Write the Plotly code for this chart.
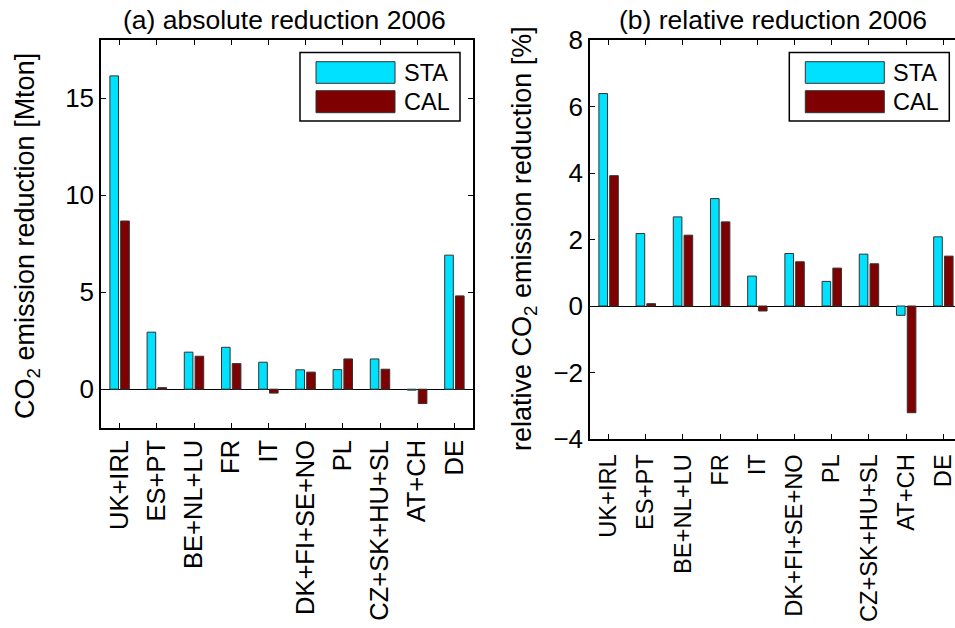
import plotly.graph_objects as go

categories = ["UK+IRL", "ES+PT", "BE+NL+LU", "FR", "IT", "DK+FI+SE+NO", "PL",
              "CZ+SK+HU+SL", "AT+CH", "DE"]
abs_sta = [16.15, 2.94, 1.91, 2.16, 1.39, 1.00, 1.01, 1.56, -0.05, 6.91]
abs_cal = [8.67, 0.08, 1.70, 1.32, -0.20, 0.88, 1.56, 1.03, -0.74, 4.81]
rel_sta = [6.39, 2.18, 2.68, 3.23, 0.90, 1.58, 0.74, 1.56, -0.28, 2.08]
rel_cal = [3.92, 0.07, 2.13, 2.53, -0.15, 1.33, 1.14, 1.27, -3.21, 1.50]
series_names = ["STA", "CAL"]
abs_yticks = [0, 5, 10, 15]
rel_yticks = [-4, -2, 0, 2, 4, 6, 8]

W, H = 955, 628
C_STA = "#00E0FF"
C_CAL = "#7F0000"
FONT = "Liberation Sans, Arial, sans-serif"
FS = 26
FS_LEG = 23.5
FS_YT = 27

def px(x):
    return x / W

def py(y):
    return 1 - y / H

fig = go.Figure()
for vals, col, name in [(abs_sta, C_STA, series_names[0]), (abs_cal, C_CAL, series_names[1])]:
    fig.add_trace(go.Bar(x=categories, y=vals, marker=dict(color=col, line=dict(color="#333333", width=1)),
                         name=name, xaxis="x", yaxis="y", showlegend=False))
for vals, col, name in [(rel_sta, C_STA, series_names[0]), (rel_cal, C_CAL, series_names[1])]:
    fig.add_trace(go.Bar(x=categories, y=vals, marker=dict(color=col, line=dict(color="#333333", width=1)),
                         name=name, xaxis="x2", yaxis="y2", showlegend=False))

axis_common = dict(showline=True, linecolor="black", linewidth=1.5, ticks="inside", ticklen=5,
                   tickcolor="black", showgrid=False, automargin=False)

def tf(size):
    return dict(family=FONT, size=size, color="black")

fig.update_layout(
    width=W, height=H, margin=dict(l=0, r=0, t=0, b=0, autoexpand=False),
    paper_bgcolor="white", plot_bgcolor="white",
    barmode="group", bargap=0.42, bargroupgap=0.2,
    font=dict(family=FONT, size=FS, color="black"),
    xaxis=dict(domain=[px(101), px(473)], anchor="y", range=[-0.5, 9.5], tickangle=-90,
               mirror="ticks", tickfont=tf(25.5), **axis_common),
    yaxis=dict(domain=[py(428), py(40)], anchor="x", range=[-2, 18], tickvals=abs_yticks,
               mirror="ticks", zeroline=True, zerolinecolor="black", zerolinewidth=1,
               tickfont=tf(FS), **axis_common),
    xaxis2=dict(domain=[px(590), 1.0], anchor="y2", range=[-0.5, 9.5 - 7 / 37.4], tickangle=-90,
                mirror="ticks", tickfont=tf(23.7), ticklabelstandoff=4, **axis_common),
    yaxis2=dict(domain=[py(439), py(40)], anchor="x2", range=[-4, 8], tickvals=rel_yticks,
                zeroline=True, zerolinecolor="black", zerolinewidth=1, tickfont=tf(FS), **axis_common),
)

ann = []
ann.append(dict(text="(a) absolute reduction 2006", x=px(284), y=py(20), xanchor="center", yanchor="middle",
                xref="paper", yref="paper", showarrow=False, font=dict(size=26.5)))
ann.append(dict(text="(b) relative reduction 2006", x=px(773), y=py(20), xanchor="center", yanchor="middle",
                xref="paper", yref="paper", showarrow=False, font=dict(size=26.5)))
ann.append(dict(text="CO<sub>2</sub> emission reduction [Mton]", x=px(27), y=py(236), xanchor="center",
                yanchor="middle", xref="paper", yref="paper", showarrow=False, textangle=-90,
                font=dict(size=FS_YT)))
ann.append(dict(text="relative CO<sub>2</sub> emission reduction [%]", x=px(524), y=py(239), xanchor="center",
                yanchor="middle", xref="paper", yref="paper", showarrow=False, textangle=-90,
                font=dict(size=FS_YT)))

shapes = []
for x0 in (300, 789.3):
    shapes.append(dict(type="rect", xref="paper", yref="paper", x0=px(x0), x1=px(x0 + 160),
                       y0=py(121), y1=py(52.5), line=dict(color="black", width=1.5), fillcolor="white"))
    for (y0, y1), col, name in [((61.7, 83.3), C_STA, series_names[0]), ((90.7, 112.7), C_CAL, series_names[1])]:
        shapes.append(dict(type="rect", xref="paper", yref="paper", x0=px(x0 + 16), x1=px(x0 + 95),
                           y0=py(y1), y1=py(y0), line=dict(color="#333333", width=1), fillcolor=col))
        ann.append(dict(text=name, x=px(x0 + 102), y=py((y0 + y1) / 2), xref="paper", yref="paper",
                        xanchor="left", yanchor="middle", showarrow=False, font=dict(size=FS_LEG)))

fig.update_layout(annotations=ann, shapes=shapes)
fig.write_html("out.html", config={"displayModeBar": False},
               post_script="document.body.style.margin='0';")
